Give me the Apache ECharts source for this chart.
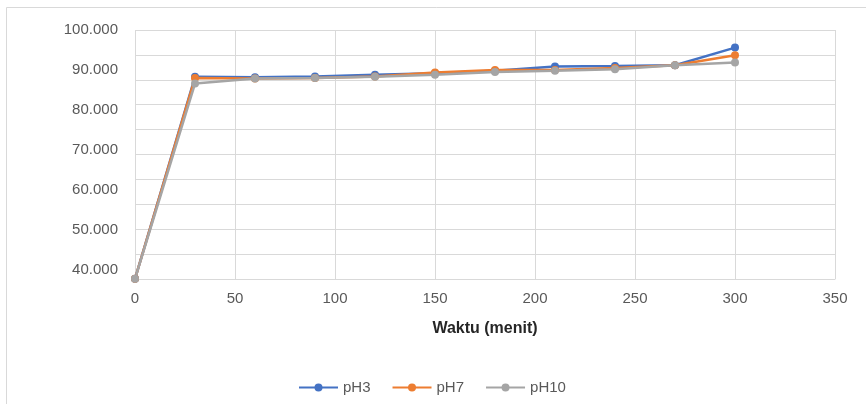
<!DOCTYPE html>
<html>
<head>
<meta charset="utf-8">
<script src="https://cdn.jsdelivr.net/npm/echarts@6/dist/echarts.min.js"></script>
<style>
  html, body { margin: 0; padding: 0; background: #fff; }
  #chart { width: 866px; height: 404px; }
</style>
</head>
<body>
<div id="chart"></div>
<script>
// waktu (menit)
var waktu = [0, 30, 60, 90, 120, 150, 180, 210, 240, 270, 300];
// nilai tiap pH
var ph3 = [37.8, 88.3, 88.2, 88.4, 88.8, 89.2, 89.8, 90.9, 91.0, 91.2, 95.6];
var ph7 = [37.8, 88.0, 87.9, 88.0, 88.4, 89.4, 90.0, 90.0, 90.5, 91.2, 93.7];
var ph10 = [37.8, 86.6, 87.9, 88.0, 88.3, 88.8, 89.5, 89.8, 90.2, 91.2, 91.9];
// label sumbu y
var yLabels = [40, 50, 60, 70, 80, 90, 100];

function pairs(ys) {
  return waktu.map(function (t, i) { return [t, ys[i]]; });
}

var myChart = echarts.init(document.getElementById('chart'));
var font = 'Liberation Sans, Arial, sans-serif';

function line(name, data, color) {
  return {
    name: name,
    type: 'line',
    yAxisIndex: 0,
    data: pairs(data),
    symbol: 'circle',
    symbolSize: 8,
    lineStyle: { color: color, width: 2.5 },
    itemStyle: { color: color },
    emphasis: { disabled: true }
  };
}

myChart.setOption({
  animation: false,
  backgroundColor: '#ffffff',
  graphic: [{
    type: 'rect',
    shape: { x: 6.5, y: 7.5, width: 900, height: 500 },
    style: { fill: 'none', stroke: '#d9d9d9', lineWidth: 1 },
    silent: true
  }],
  grid: { left: 135, top: 30, right: 31, bottom: 125 },
  legend: {
    left: 293,
    top: 375,
    itemWidth: 39,
    itemHeight: 10,
    itemGap: 21,
    textStyle: { color: '#595959', fontSize: 15, fontFamily: font },
    data: ['pH3', 'pH7', 'pH10']
  },
  xAxis: {
    type: 'value',
    min: 0,
    max: 350,
    interval: 50,
    name: 'Waktu (menit)',
    nameLocation: 'middle',
    nameGap: 42,
    nameTextStyle: { color: '#262626', fontSize: 16, fontWeight: 'bold', fontFamily: font },
    axisLine: { lineStyle: { color: '#d9d9d9' } },
    axisTick: { show: false },
    axisLabel: { color: '#595959', fontSize: 15, fontFamily: font, margin: 12 },
    splitLine: { show: true, lineStyle: { color: '#d9d9d9' } }
  },
  yAxis: [{
    type: 'value',
    min: 37.75,
    max: 100,
    axisLine: { show: false },
    axisTick: { show: false },
    splitLine: { show: false },
    axisLabel: {
      customValues: yLabels,
      color: '#595959',
      fontSize: 15,
      fontFamily: font,
      margin: 17,
      formatter: function (v) { return v.toFixed(3); }
    }
  }, {
    // garis bantu horizontal
    type: 'value',
    min: 0,
    max: 10,
    interval: 1,
    axisLine: { show: false },
    axisTick: { show: false },
    axisLabel: { show: false },
    splitLine: { show: true, lineStyle: { color: '#d9d9d9' } }
  }],
  series: [
    line('pH3', ph3, '#4472c4'),
    line('pH7', ph7, '#ed7d31'),
    line('pH10', ph10, '#a5a5a5')
  ]
});
</script>
</body>
</html>
